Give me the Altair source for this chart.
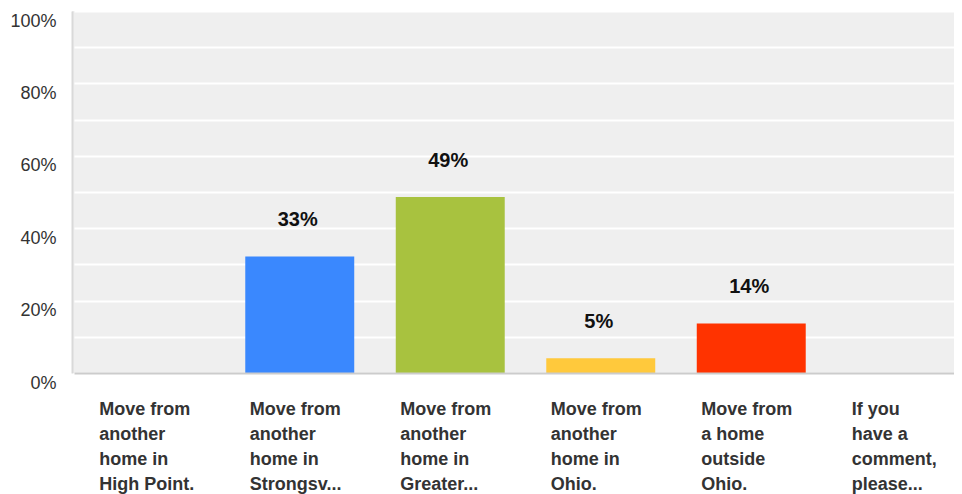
import altair as alt
import pandas as pd

categories = [
    "Move from|another|home in|High Point.",
    "Move from|another|home in|Strongsv...",
    "Move from|another|home in|Greater...",
    "Move from|another|home in|Ohio.",
    "Move from|a home|outside|Ohio.",
    "If you|have a|comment,|please...",
]
values = [0, 32.2, 48.6, 4.1, 13.7, 0]
value_labels = ["", "33%", "49%", "5%", "14%", ""]
bar_colors = ["#3a88fe", "#3a88fe", "#a8c23f", "#ffc93c", "#ff3300", "#ff3300"]

df = pd.DataFrame({"cat": categories, "value": values, "label": value_labels})

x = alt.X(
    "cat:N",
    sort=categories,
    scale=alt.Scale(range=[2, 905], paddingInner=0.276, paddingOuter=0.138),
    axis=alt.Axis(
        title=None,
        labelExpr="split(datum.label, '|')",
        labelAlign="left",
        labelBaseline="top",
        labelOffset=-50,
        labelPadding=27,
        labelLineHeight=25,
        labelAngle=0,
        labelFontSize=18,
        labelFontWeight="bold",
        labelColor="#333333",
        labelFont="Liberation Sans",
        labelOverlap=False,
        labelLimit=300,
        ticks=False,
        domainColor="#cccccc",
        domainWidth=2,
        grid=False,
        zindex=1,
    ),
)

y = alt.Y(
    "value:Q",
    scale=alt.Scale(domain=[0, 100], nice=False),
    axis=alt.Axis(
        title=None,
        values=list(range(0, 101, 10)),
        labelExpr="datum.value % 20 == 0 ? datum.value + '%' : ''",
        ticks=False,
        grid=True,
        gridColor="#ffffff",
        gridWidth=2,
        domainColor="#d9d9d9",
        domainWidth=2,
        labelFontSize=18,
        labelColor="#333333",
        labelFont="Liberation Sans",
        labelPadding=16,
        labelOffset=10,
        labelOverlap=False,
        labelFlush=False,
    ),
)

bars = alt.Chart(df).mark_bar().encode(
    x=x,
    y=y,
    color=alt.Color("cat:N", scale=alt.Scale(domain=categories, range=bar_colors), legend=None),
)

texts = alt.Chart(df).mark_text(
    dy=-30, dx=-2, baseline="alphabetic", fontSize=20, fontWeight="bold",
    font="Liberation Sans", color="#111111",
).encode(x=x, y=y, text="label:N")

chart = (
    alt.layer(bars, texts)
    .properties(
        width=882,
        height=362,
        autosize=alt.AutoSizeParams(type="none"),
        padding={"left": 64, "top": 3, "right": 0, "bottom": 121},
    )
    .configure(font="Liberation Sans")
    .configure_view(fill="#efefef", strokeWidth=0)
)

chart.save("out.html", embed_options={"renderer": "svg", "actions": False})
